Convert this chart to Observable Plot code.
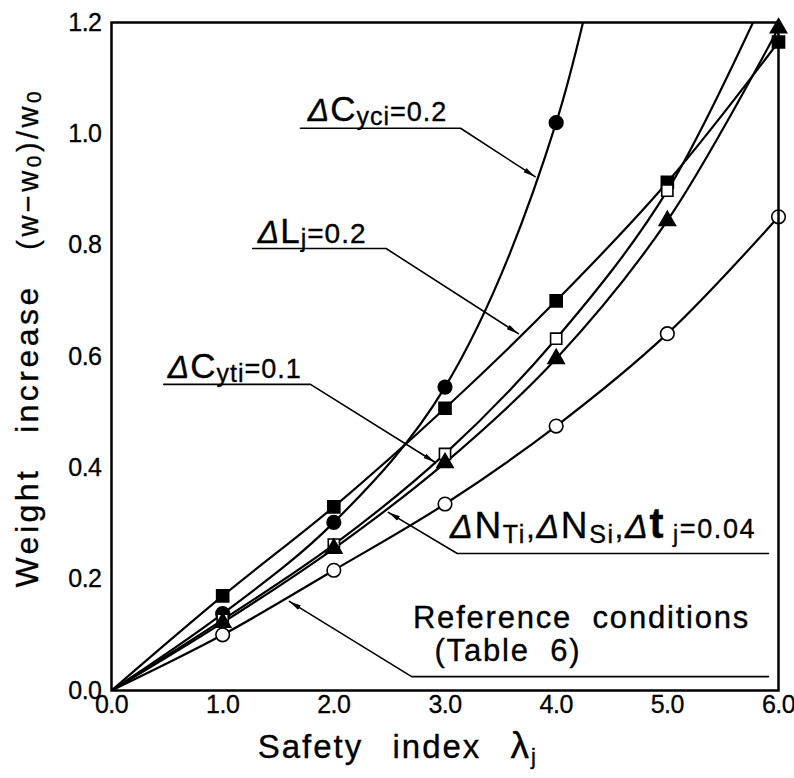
<!DOCTYPE html>
<html><head><meta charset="utf-8">
<script src="https://cdn.jsdelivr.net/npm/d3@7"></script>
<script src="https://cdn.jsdelivr.net/npm/@observablehq/plot@0.6"></script>
<style>body{margin:0;background:#fff}</style>
</head><body><div id="chart"></div>
<script>
// ---- data ----
const lambda = [0, 1, 2, 3, 4, 5, 6];
const refCond = [0, 0.100, 0.216, 0.335, 0.475, 0.641, 0.851];   // open circles
const dCyci   = [0, 0.138, 0.302, 0.545, 1.020, 1.950];          // filled circles (leaves frame)
const dLj     = [0, 0.170, 0.330, 0.507, 0.700, 0.913, 1.165];   // filled squares
const dCyti   = [0, 0.127, 0.262, 0.425, 0.632, 0.898, 1.300];   // open squares (leaves frame)
const dNt     = [0, 0.122, 0.255, 0.409, 0.596, 0.844, 1.190];   // filled triangles
const xTicks = [0, 1, 2, 3, 4, 5, 6];
const yTicks = [0, 0.2, 0.4, 0.6, 0.8, 1.0, 1.2];

const FONT = "'Liberation Sans', Arial, Helvetica, sans-serif";
const W = 794, H = 778;

const series = [
  {name: "Reference", values: refCond, symbol: "circle",   fill: "white", r: 6.8},
  {name: "dCyci",     values: dCyci,   symbol: "circle",   fill: "black", r: 6.8},
  {name: "dLj",       values: dLj,     symbol: "square",   fill: "black", r: 6.8},
  {name: "dCyti",     values: dCyti,   symbol: "square",   fill: "white", r: 6.3},
  {name: "dNt",       values: dNt,     symbol: "triangle", fill: "black", r: 6.0}
];
const toRows = s => s.values.map((v, i) => ({x: lambda[i], y: v}));

// leader lines (data coordinates): underline then arrow to the curve
const leaders = [
  [[1.70, 1.010], [3.14, 1.010], [3.81, 0.923]],
  [[1.27, 0.794], [2.47, 0.794], [3.66, 0.641]],
  [[0.47, 0.550], [1.79, 0.550], [2.91, 0.410]],
  [[5.91, 0.246], [3.11, 0.246], [2.49, 0.320]],
  [[5.91, 0.025], [2.70, 0.025], [1.60, 0.160]]
];

const marks = [];
for (const s of series) {
  marks.push(Plot.line(toRows(s), {x: "x", y: "y", curve: "catmull-rom", stroke: "black", strokeWidth: 2.2, clip: true}));
}
for (const l of leaders) {
  marks.push(Plot.line(l.map(([x, y]) => ({x, y})), {x: "x", y: "y", stroke: "black", strokeWidth: 1.6, markerEnd: "arrow"}));
}
for (const s of series) {
  marks.push(Plot.dot(toRows(s).filter(d => d.x > 0 && d.y <= 1.2), {
    x: "x", y: "y", symbol: s.symbol, fill: s.fill, stroke: "black", strokeWidth: 1.6, r: s.r
  }));
}
marks.push(Plot.frame({stroke: "black", strokeWidth: 2.5}));

const plot = Plot.plot({
  width: W, height: H,
  marginLeft: 111, marginRight: 16, marginTop: 22, marginBottom: 88,
  style: {fontFamily: FONT, fontSize: "25px", color: "black", background: "white"},
  x: {domain: [0, 6], ticks: xTicks, tickFormat: d3.format(".1f"), tickSize: 0, tickPadding: 5, label: null},
  y: {domain: [0, 1.2], ticks: yTicks, tickFormat: d3.format(".1f"), tickSize: 0, tickPadding: 10, label: null},
  marks
});
document.getElementById("chart").appendChild(plot);

const svg = d3.select(plot);
const xs = plot.scale("x").apply, ys = plot.scale("y").apply;

// larger, slightly heavier tick labels
svg.selectAll("g[aria-label*='axis']").attr("font-size", 25);
svg.selectAll("g[aria-label*='axis'] text").attr("font-size", 25)
  .attr("stroke", "black").attr("stroke-width", 0.3).attr("letter-spacing", -0.5);

// filled arrowheads
svg.selectAll("marker")
  .attr("viewBox", "-12 -4 13 8")
  .attr("markerWidth", 13 / 1.6).attr("markerHeight", 8 / 1.6)
  .attr("fill", "black").attr("stroke", "none")
  .selectAll("path").attr("d", "M-12,-2.6L0,0L-12,2.6Z");

function rich(x, y, parts, opts = {}) {
  const t = svg.append("text").attr("x", x).attr("y", y)
    .attr("font-family", FONT).attr("fill", "black")
    .attr("stroke", "black").attr("stroke-width", 0.35)
    .attr("letter-spacing", opts.ls || 0)
    .attr("word-spacing", opts.ws || 0)
    .attr("text-anchor", opts.anchor || "start");
  if (opts.transform) t.attr("transform", opts.transform);
  let base = 0;
  for (const p of parts) {
    const ts = t.append("tspan").text(p.t).attr("font-size", p.size);
    const sh = p.sub || 0;
    if (sh !== base) ts.attr("dy", sh - base);
    base = sh;
    if (p.italic) ts.attr("font-style", "italic");
    if (p.bold) ts.attr("font-weight", "bold");
    if (p.dx) ts.attr("dx", p.dx);
  }
  return t;
}

// annotation labels
const annotations = [
  {x: 1.77, y: 1.022, parts: [{t: "Δ", size: 32, italic: 1}, {t: "C", size: 35}, {t: "yci", size: 25, sub: 4}, {t: "=0.2", size: 27}]},
  {x: 1.32, y: 0.803, parts: [{t: "Δ", size: 32, italic: 1}, {t: "L", size: 35}, {t: "j", size: 25, sub: 4}, {t: "=0.2", size: 28}]},
  {x: 0.51, y: 0.560, parts: [{t: "Δ", size: 32, italic: 1}, {t: "C", size: 35}, {t: "yti", size: 25, sub: 4}, {t: "=0.1", size: 27}]},
  {x: 3.05, y: 0.273, ls: 1.6, parts: [
    {t: "Δ", size: 34, italic: 1}, {t: "N", size: 37}, {t: "Ti", size: 25, sub: 5}, {t: ",", size: 32},
    {t: "Δ", size: 34, italic: 1}, {t: "N", size: 37}, {t: "Si", size: 25, sub: 5}, {t: ",", size: 32},
    {t: "Δ", size: 34, italic: 1}, {t: "t", size: 42, bold: 1}, {t: " j", size: 23, sub: 4}, {t: "=0.04", size: 27}
  ]},
  {x: 2.716, y: 0.112, ls: 1.8, ws: 10, parts: [{t: "Reference conditions", size: 31}]},
  {x: 2.91, y: 0.052, ls: 1.8, ws: 10, parts: [{t: "(Table 6)", size: 31}]}
];
for (const a of annotations) rich(xs(a.x), ys(a.y), a.parts, {ls: a.ls ?? 1, ws: a.ws});

// axis titles
rich(xs(2.58), H - 20, [{t: "Safety index ", size: 33}, {t: "λ", size: 37}, {t: "j", size: 22, sub: 6}],
  {anchor: "middle", ls: 2, ws: 18});
rich(0, 0, [{t: "Weight increase ", size: 32}, {t: "(w−w", size: 29}, {t: "0", size: 21, sub: 3}, {t: ")/w", size: 29}, {t: "0", size: 21, sub: 3}],
  {anchor: "middle", ls: 3.5, ws: 22, transform: `translate(38,${ys(0.633)}) rotate(-90)`});
</script>
</body></html>
